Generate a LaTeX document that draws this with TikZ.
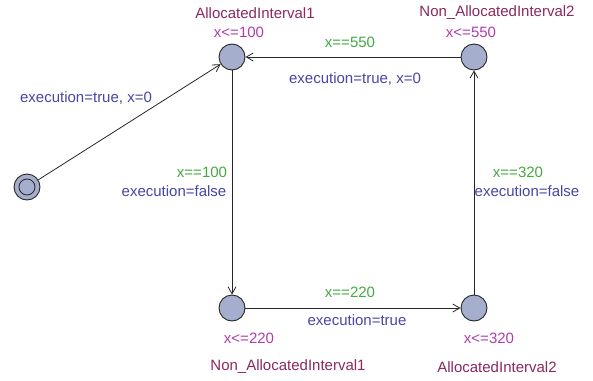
\documentclass[tikz,border=0pt]{standalone}
\usepackage{fontspec}
\setmainfont{Liberation Sans}
\usetikzlibrary{arrows.meta}
\definecolor{locfill}{RGB}{165,174,205}
\definecolor{namecol}{RGB}{140,40,95}
\definecolor{invcol}{RGB}{175,60,175}
\definecolor{guardcol}{RGB}{65,170,65}
\definecolor{updcol}{RGB}{70,70,165}
\tikzset{
  loc/.style={circle,draw=black!85,fill=locfill,line width=0.9pt,minimum size=26pt,inner sep=0pt},
  lbl/.style={font=\fontsize{15}{17}\selectfont,inner sep=0pt},
  lname/.style={lbl,text=namecol},
  inv/.style={lbl,text=invcol},
  guard/.style={lbl,text=guardcol},
  upd/.style={lbl,text=updcol},
  edge/.style={draw=black!85,line width=0.8pt,-{Straight Barb[length=7pt,width=8pt]}}
}
\begin{document}
\begin{tikzpicture}[x=1pt,y=-1pt]
\useasboundingbox (0,0) rectangle (593,380);
\node[loc] (init) at (27,187) {};
\draw[black!85,line width=0.8pt] (init.center) circle (8pt);
\node[loc] (a1) at (232,57) {};
\node[loc] (n2) at (474,57) {};
\node[loc] (n1) at (232,308) {};
\node[loc] (a2) at (474,308) {};
% location labels
\node[lname] (a1name) at (255,13) {AllocatedInterval1};
\node[inv] (a1inv) at (239,32) {x<=100};
\node[lname] (n2name) at (497,13) {Non\_AllocatedInterval2};
\node[inv] (n2inv) at (471,32) {x<=550};
\node[inv] (n1inv) at (249,338) {x<=220};
\node[lname] (n1name) at (288,367) {Non\_AllocatedInterval1};
\node[inv] (a2inv) at (489,338) {x<=320};
\node[lname] (a2name) at (497,367) {AllocatedInterval2};
% edges
\draw[edge] (init) -- (a1);
\draw[edge] (n2) -- (a1);
\draw[edge] (a1) -- (n1);
\draw[edge] (n1) -- (a2);
\draw[edge] (a2) -- (n2);
% edge labels
\node[upd] (e0u) at (86,98) {execution=true, x=0};
\node[guard] (e1g) at (350,42) {x==550};
\node[upd] (e1u) at (355,79) {execution=true, x=0};
\node[guard] (e2g) at (202,172) {x==100};
\node[upd] (e2u) at (174,191) {execution=false};
\node[guard] (e3g) at (350,292) {x==220};
\node[upd] (e3u) at (357,320) {execution=true};
\node[guard] (e4g) at (518,172) {x==320};
\node[upd] (e4u) at (527,191) {execution=false};
\end{tikzpicture}
\end{document}
